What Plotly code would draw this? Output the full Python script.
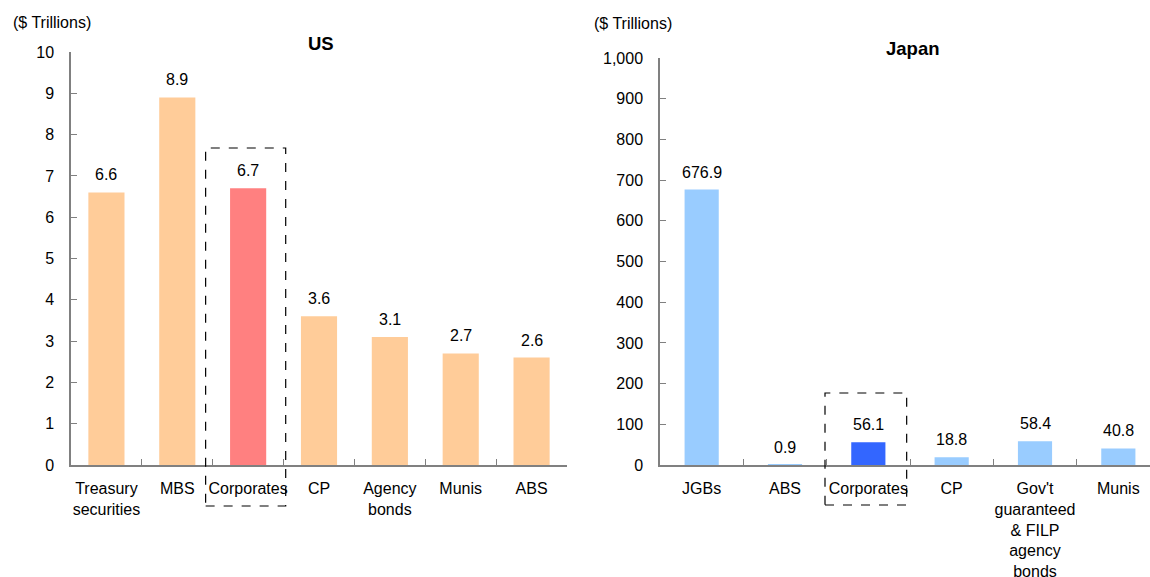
import plotly.graph_objects as go

# Outstanding bond market size by sector
us_categories = ["Treasury<br>securities", "MBS", "Corporates", "CP", "Agency<br>bonds", "Munis", "ABS"]
us_values = [6.6, 8.9, 6.7, 3.6, 3.1, 2.7, 2.6]
us_labels = ["6.6", "8.9", "6.7", "3.6", "3.1", "2.7", "2.6"]

jp_categories = ["JGBs", "ABS", "Corporates", "CP",
                 "Gov't<br>guaranteed<br>& FILP<br>agency<br>bonds", "Munis"]
jp_values = [676.9, 0.9, 56.1, 18.8, 58.4, 40.8]
jp_labels = ["676.9", "0.9", "56.1", "18.8", "58.4", "40.8"]

W, H = 1150, 577
FONT = "Liberation Sans, Arial, sans-serif"
AXIS_GREY = "#808080"

def px_x(p):
    return p / W

def px_y(p):
    return (H - p) / H

us_colors = ["#FF8080" if c == "Corporates" else "#FFCC99" for c in us_categories]
jp_colors = ["#3366FF" if c == "Corporates" else "#99CCFF" for c in jp_categories]

fig = go.Figure()
fig.add_trace(go.Bar(x=us_categories, y=us_values, marker=dict(color=us_colors, line_width=0),
                     width=0.51, xaxis="x", yaxis="y", showlegend=False, hoverinfo="x+y"))
fig.add_trace(go.Bar(x=jp_categories, y=jp_values, marker=dict(color=jp_colors, line_width=0),
                     width=0.41, xaxis="x2", yaxis="y2", showlegend=False, hoverinfo="x+y"))

# value labels above bars
annotations = []
for c, v, t in zip(us_categories, us_values, us_labels):
    annotations.append(dict(x=c, y=v, xref="x", yref="y", text=t, showarrow=False,
                            yanchor="bottom", yshift=7, font=dict(size=16, color="#000")))
for c, v, t in zip(jp_categories, jp_values, jp_labels):
    annotations.append(dict(x=c, y=v, xref="x2", yref="y2", text=t, showarrow=False,
                            yanchor="bottom", yshift=7, font=dict(size=16, color="#000")))

# panel titles and unit captions
annotations += [
    dict(x=px_x(321), y=px_y(43), xref="paper", yref="paper", text="<b>US</b>",
         showarrow=False, xanchor="center", yanchor="middle", font=dict(size=18.5, color="#000")),
    dict(x=px_x(912), y=px_y(49), xref="paper", yref="paper", text="<b>Japan</b>",
         showarrow=False, xanchor="center", yanchor="middle", font=dict(size=18.5, color="#000")),
    dict(x=px_x(11), y=px_y(23), xref="paper", yref="paper", text="($ Trillions)",
         showarrow=False, xanchor="left", yanchor="middle", font=dict(size=16, color="#000")),
    dict(x=px_x(592), y=px_y(24), xref="paper", yref="paper", text="($ Trillions)",
         showarrow=False, xanchor="left", yanchor="middle", font=dict(size=16, color="#000")),
]

# dashed boxes highlighting the corporate bond bars
us_corp = us_categories.index("Corporates")
jp_corp = jp_categories.index("Corporates")
shapes = [
    dict(type="rect", xref="x", yref="paper", x0=us_corp - 0.6, x1=us_corp + 0.53,
         y0=px_y(506), y1=px_y(148), line=dict(color="#000", width=1.2, dash="dash")),
    dict(type="rect", xref="x2", yref="paper", x0=jp_corp - 0.52, x1=jp_corp + 0.46,
         y0=px_y(505), y1=px_y(393), line=dict(color="#000", width=1.2, dash="dash")),
]

xaxis_common = dict(type="category", showline=True, linecolor=AXIS_GREY, linewidth=1.5,
                    ticks="inside", ticklen=6, tickcolor=AXIS_GREY, tickson="boundaries",
                    showgrid=False, zeroline=False, ticklabelstandoff=8, tickangle=0,
                    automargin=False, tickfont=dict(size=16, color="#000"))
yaxis_common = dict(showline=True, linecolor=AXIS_GREY, linewidth=1.5, ticks="inside",
                    ticklen=6, tickcolor=AXIS_GREY, showgrid=False, zeroline=False,
                    automargin=False, ticklabelstandoff=12, tickfont=dict(size=16, color="#000"))

fig.update_layout(
    width=W, height=H,
    margin=dict(l=0, r=0, t=0, b=0, autoexpand=False),
    paper_bgcolor="white", plot_bgcolor="white",
    font=dict(family=FONT, color="#000"),
    bargap=0.5,
    xaxis=dict(xaxis_common, domain=[px_x(71), px_x(567)], range=[-0.5, 6.5], anchor="y"),
    yaxis=dict(yaxis_common, domain=[px_y(465), px_y(52)], range=[0, 10], dtick=1, anchor="x"),
    xaxis2=dict(xaxis_common, domain=[px_x(660), 1.0], range=[-0.5, 5.38], anchor="y2"),
    yaxis2=dict(yaxis_common, domain=[px_y(465), px_y(58)], range=[0, 1000], dtick=100,
                tickformat=",", anchor="x2"),
    annotations=annotations,
    shapes=shapes,
)

fig.write_html("out.html")
